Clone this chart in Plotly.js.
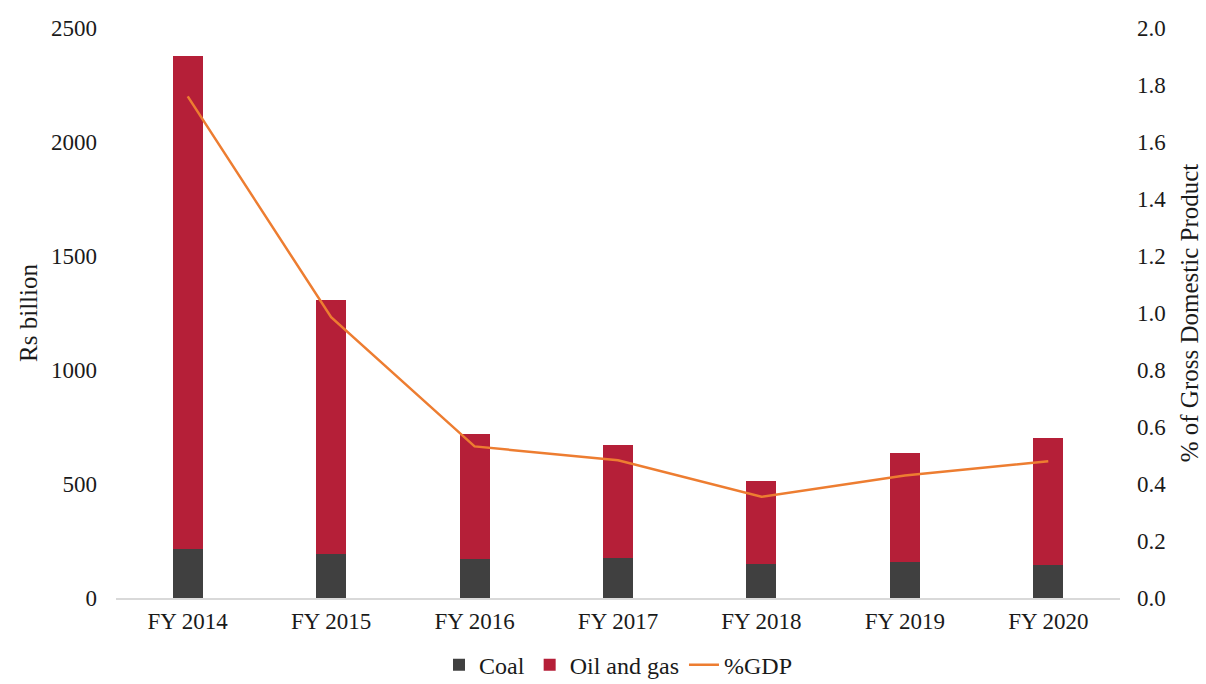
<!DOCTYPE html>
<html>
<head>
<meta charset="utf-8">
<script src="https://cdn.plot.ly/plotly-3.0.1.min.js"></script>
<style>html,body{margin:0;padding:0;background:#fff;}#chart{width:1206px;height:684px;}</style>
</head>
<body>
<div id="chart"></div>
<script>
const categories = ["FY 2014", "FY 2015", "FY 2016", "FY 2017", "FY 2018", "FY 2019", "FY 2020"];
const coal = [213, 191, 169, 175, 147, 156, 143];
const oilAndGas = [2163, 1116, 549, 495, 365, 479, 558];
const pctGDP = [1.76, 0.985, 0.532, 0.483, 0.355, 0.43, 0.48];
const leftTicks = [0, 500, 1000, 1500, 2000, 2500];
const rightTicks = [0, 0.2, 0.4, 0.6, 0.8, 1.0, 1.2, 1.4, 1.6, 1.8, 2.0];

const FONT = "'Liberation Serif', 'Times New Roman', serif";
const TXT = "#1a1a1a";

const traces = [
  {type: "bar", name: "Coal", x: categories, y: coal, marker: {color: "#404040"}, width: 0.21},
  {type: "bar", name: "Oil and gas", x: categories, y: oilAndGas, marker: {color: "#B51F38"}, width: 0.21},
  {type: "scatter", mode: "lines", name: "%GDP", x: categories, y: pctGDP, yaxis: "y2", line: {color: "#ED7D31", width: 2.5}}
];

const layout = {
  width: 1206, height: 684,
  margin: {l: 116, r: 86, t: 28, b: 86, autoexpand: false},
  barmode: "stack",
  paper_bgcolor: "#fff", plot_bgcolor: "#fff",
  font: {family: FONT, size: 23, color: TXT},
  showlegend: true,
  legend: {orientation: "h", x: 0.5, xanchor: "center", y: -0.118, yanchor: "middle", font: {family: FONT, size: 24, color: TXT}, traceorder: "normal"},
  xaxis: {
    type: "category", showgrid: false, showline: true, linecolor: "#d9d9d9", linewidth: 2,
    ticks: "", ticklabelstandoff: 1, tickfont: {family: FONT, size: 23, color: TXT}
  },
  yaxis: {
    range: [0, 2500], tickvals: leftTicks, ticktext: leftTicks.map(String),
    showgrid: false, zeroline: false, showline: false, ticks: "",
    ticklabelstandoff: 18,
    tickfont: {family: FONT, size: 23, color: TXT},
    title: {text: "Rs billion", font: {family: FONT, size: 25, color: TXT}, standoff: 6}
  },
  yaxis2: {
    overlaying: "y", side: "right", range: [0, 2], tickvals: rightTicks, ticktext: rightTicks.map(v => v.toFixed(1)),
    showgrid: false, zeroline: false, showline: false, ticks: "",
    ticklabelstandoff: 16,
    tickfont: {family: FONT, size: 23, color: TXT},
    title: {text: "% of Gross Domestic Product", font: {family: FONT, size: 25, color: TXT}, standoff: 15}
  }
};

Plotly.newPlot("chart", traces, layout, {displayModeBar: false, staticPlot: true});
</script>
</body>
</html>
